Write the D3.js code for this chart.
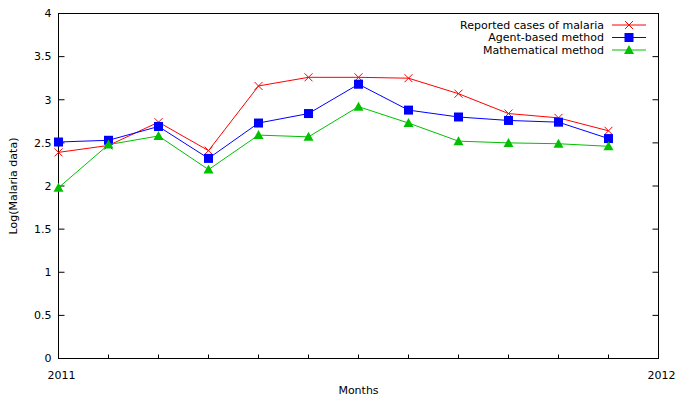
<!DOCTYPE html>
<html><head><meta charset="utf-8">
<script src="https://cdn.jsdelivr.net/npm/d3@7"></script>
<style>body{margin:0;background:#fff}svg{display:block}text{font-family:"DejaVu Sans",Verdana,sans-serif;font-size:11px;fill:#000}</style>
</head><body><svg id="c" width="680" height="400"></svg>
<script>
const months = [0,1,2,3,4,5,6,7,8,9,10,11];
const reported = [2.39,2.47,2.74,2.41,3.16,3.26,3.26,3.25,3.07,2.84,2.79,2.64];
const agent = [2.51,2.53,2.69,2.32,2.73,2.84,3.18,2.88,2.80,2.76,2.74,2.55];
const mathematical = [1.98,2.48,2.58,2.19,2.59,2.57,2.92,2.73,2.52,2.50,2.49,2.46];
const yTicks = [0,0.5,1,1.5,2,2.5,3,3.5,4];
const xTickLabels = ["2011","2012"];
const seriesNames = ["Reported cases of malaria","Agent-based method","Mathematical method"];
const colors = ["#ff0000","#0000ff","#00c000"];

const svg = d3.select("#c");
const L=58.5, R=658.5, T=13.5, B=358.5;
const x = d3.scaleLinear().domain([0,12]).range([L,R]);
const y = d3.scaleLinear().domain([0,4]).range([B,T]);

// y ticks left & right
const ga = svg.append("g");
yTicks.forEach(v=>{
  ga.append("line").attr("x1",L).attr("x2",L+6).attr("y1",y(v)).attr("y2",y(v)).attr("stroke","#000");
  ga.append("line").attr("x1",R).attr("x2",R-6).attr("y1",y(v)).attr("y2",y(v)).attr("stroke","#000");
  ga.append("text").attr("x",L-7).attr("y",y(v)).attr("dy","0.35em").attr("text-anchor","end").text(v);
});
// x minor ticks
d3.range(1,12).forEach(m=>{
  ga.append("line").attr("x1",x(m)).attr("x2",x(m)).attr("y1",B).attr("y2",B-4).attr("stroke","#000");
});
xTickLabels.forEach((t,i)=>{
  ga.append("text").attr("x",x(i*12)+3).attr("y",B+20).attr("text-anchor","middle").text(t);
});
svg.append("rect").attr("x",L).attr("y",T).attr("width",R-L).attr("height",B-T).attr("fill","none").attr("stroke","#000").attr("stroke-width",1);

svg.append("text").attr("x",x(6)).attr("y",394).attr("text-anchor","middle").text("Months");
svg.append("text").attr("transform",`translate(17,${y(2)}) rotate(-90)`).attr("text-anchor","middle").text("Log(Malaria data)");

const line = d3.line().x((d,i)=>x(months[i])).y(d=>y(d));
function marker(g, kind, cx, cy, col){
  if(kind===0){
    g.append("path").attr("d",`M${cx-4},${cy-4}L${cx+4},${cy+4}M${cx-4},${cy+4}L${cx+4},${cy-4}`).attr("stroke",col).attr("fill","none");
  } else if(kind===1){
    g.append("rect").attr("x",cx-4.5).attr("y",cy-4.5).attr("width",9).attr("height",9).attr("fill",col);
  } else {
    g.append("path").attr("d",`M${cx},${cy-5}L${cx+5},${cy+4}L${cx-5},${cy+4}Z`).attr("fill",col);
  }
}
[reported,agent,mathematical].forEach((s,k)=>{
  const g = svg.append("g");
  g.append("path").datum(s).attr("d",line).attr("fill","none").attr("stroke",colors[k]).attr("stroke-width",1);
  s.forEach((v,i)=>marker(g,k,x(months[i]),y(v),colors[k]));
});

// legend
seriesNames.forEach((n,k)=>{
  const ly = 25 + k*12.5;
  const g = svg.append("g");
  g.append("text").attr("x",604).attr("y",ly).attr("dy","0.35em").attr("text-anchor","end").text(n);
  g.append("line").attr("x1",612).attr("x2",646).attr("y1",ly).attr("y2",ly).attr("stroke",colors[k]);
  marker(g,k,629,ly,colors[k]);
});
</script></body></html>
